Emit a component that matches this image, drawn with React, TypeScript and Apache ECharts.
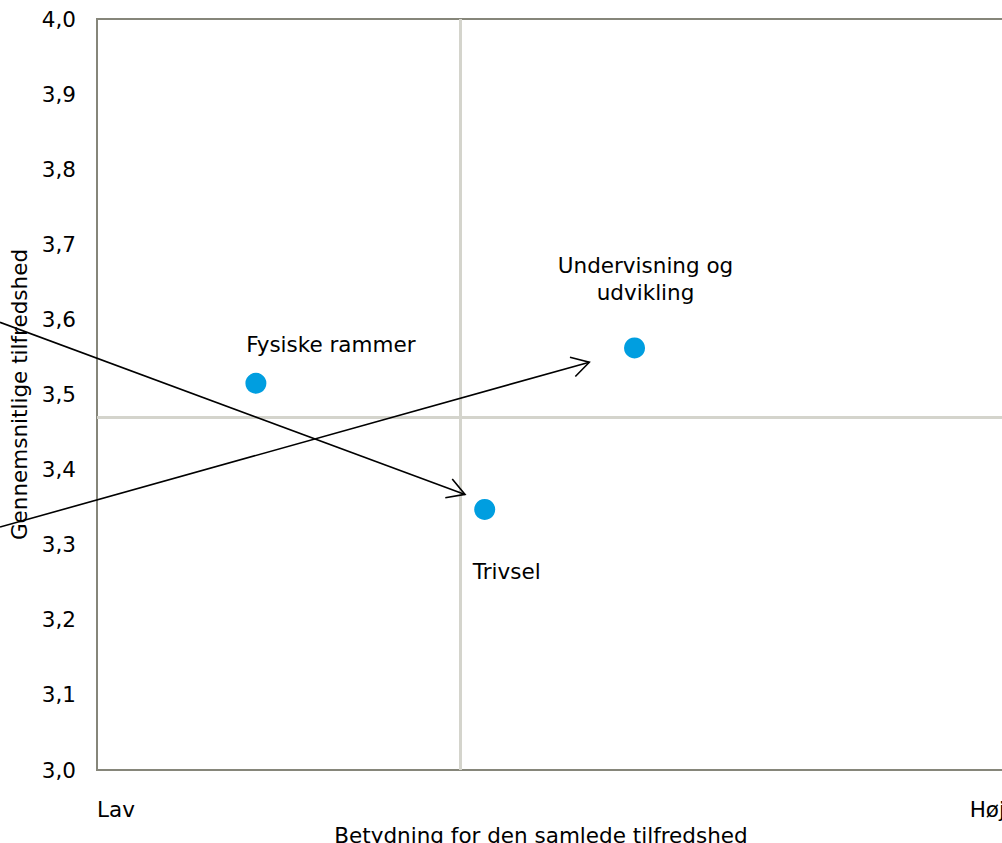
import React, { useEffect, useRef } from "react";
import * as echarts from "echarts";

const pointNames = ["Fysiske rammer", "Trivsel", "Undervisning og\nudvikling"];
const importance = [0.175, 0.427, 0.592];
const satisfaction = [3.515, 3.347, 3.562];
const xTickLabels = ["Lav", "Høj"];
// arrows: [x1, y1, x2, y2] in data units
const arrows = [
  [-0.1068, 3.5961, 0.4053, 3.367],
  [-0.1068, 3.3235, 0.5422, 3.543],
];

const FONT = "'DejaVu Sans', Verdana, sans-serif";
const FS = 21.5;

export default function App() {
  const ref = useRef<HTMLDivElement>(null);
  useEffect(() => {
    document.body.style.margin = "0";
    const chart = echarts.init(ref.current!, null, { renderer: "svg" });
    const labelOffsets = [
      [75, -39],
      [22, 62],
      [11, -69],
    ];
    chart.setOption({
      animation: false,
      textStyle: { fontFamily: FONT },
      grid: {
        left: 97,
        top: 19,
        bottom: 73,
        right: -3,
        outerBoundsMode: "none",
        containLabel: false,
        show: true,
        borderColor: "#86867a",
        borderWidth: 2,
        backgroundColor: "#fff",
      },
      xAxis: {
        type: "value",
        min: 0,
        max: 1,
        interval: 1,
        axisLine: { show: false },
        axisTick: { show: false },
        splitLine: { show: false },
        axisLabel: {
          margin: 28,
          fontSize: FS,
          color: "#000",
          fontFamily: FONT,
          alignMinLabel: "left",
          alignMaxLabel: "right",
          formatter: (v: number) => (v === 0 ? xTickLabels[0] : xTickLabels[1]),
        },
        name: "Betydning for den samlede tilfredshed",
        nameLocation: "middle",
        nameGap: 52,
        nameTextStyle: { fontSize: FS, color: "#000", fontFamily: FONT, padding: [0, 20, 0, 0] },
      },
      yAxis: {
        type: "value",
        min: 3,
        max: 4,
        interval: 0.1,
        axisLine: { show: false },
        axisTick: { show: false },
        splitLine: { show: false },
        axisLabel: {
          margin: 21,
          fontSize: FS,
          color: "#000",
          fontFamily: FONT,
          formatter: (v: number) => v.toFixed(1).replace(".", ","),
        },
        name: "Gennemsnitlige tilfredshed",
        nameLocation: "middle",
        nameGap: 62,
        nameTextStyle: { fontSize: FS, color: "#000", fontFamily: FONT },
      },
      series: [
        {
          type: "scatter",
          symbolSize: 21,
          itemStyle: { color: "#009ee0", opacity: 1 },
          data: pointNames.map((n, i) => ({
            name: n,
            value: [importance[i], satisfaction[i]],
            label: {
              show: true,
              position: "inside",
              offset: labelOffsets[i],
              formatter: n,
              fontSize: FS,
              lineHeight: 27,
              color: "#000",
              fontFamily: FONT,
              align: "center",
            },
          })),
          markLine: {
            silent: true,
            symbol: "none",
            label: { show: false },
            lineStyle: { color: "#d4d4cc", width: 3, type: "solid", opacity: 1 },
            data: [
              { type: "average", valueDim: "x" },
              { type: "average", valueDim: "y" },
            ],
          },
          z: 3,
        },
        {
          type: "custom",
          clip: false,
          z: 5,
          data: arrows,
          renderItem: (params: any, api: any) => {
            const p1 = api.coord([api.value(0), api.value(1)]);
            const p2 = api.coord([api.value(2), api.value(3)]);
            const ang = Math.atan2(p1[1] - p2[1], p1[0] - p2[0]);
            const L = 20;
            const a = Math.PI / 6;
            const h1 = [p2[0] + L * Math.cos(ang + a), p2[1] + L * Math.sin(ang + a)];
            const h2 = [p2[0] + L * Math.cos(ang - a), p2[1] + L * Math.sin(ang - a)];
            const style = { stroke: "#000", lineWidth: 1.6, fill: null };
            return {
              type: "group",
              children: [
                { type: "line", shape: { x1: p1[0], y1: p1[1], x2: p2[0], y2: p2[1] }, style },
                { type: "polyline", shape: { points: [h1, p2, h2] }, style },
              ],
            };
          },
        },
      ],
    });
    return () => chart.dispose();
  }, []);
  return <div ref={ref} style={{ width: 1002, height: 843 }} />;
}
